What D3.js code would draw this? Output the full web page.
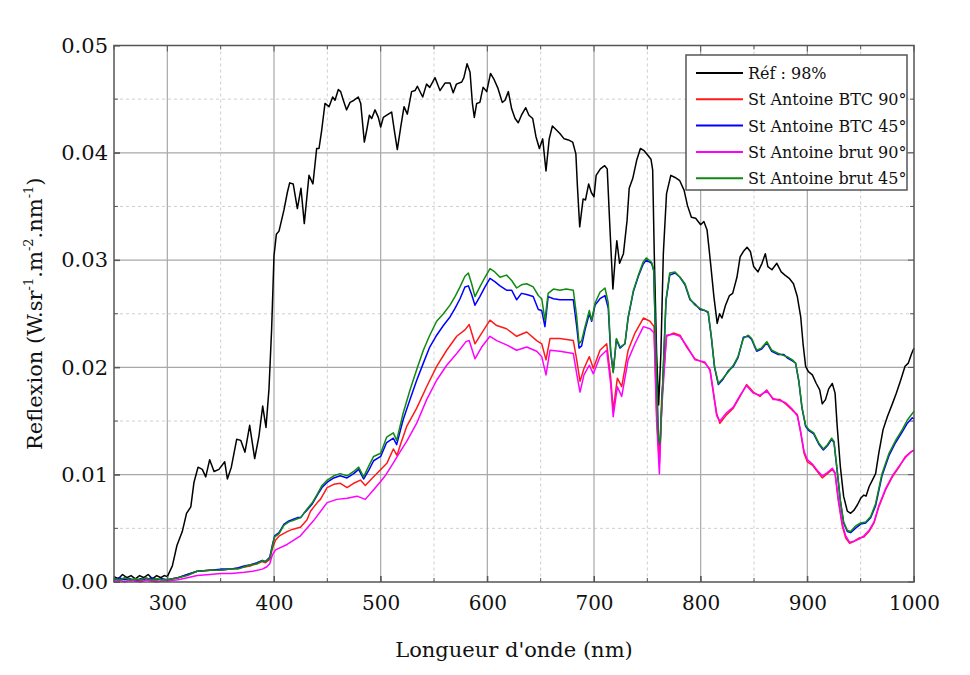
<!DOCTYPE html>
<html>
<head>
<meta charset="utf-8">
<script src="https://cdn.jsdelivr.net/npm/d3@7"></script>
<style>
  html, body { margin: 0; padding: 0; background: #ffffff; }
  svg { display: block; }
</style>
</head>
<body>
<svg id="chart" width="970" height="675"></svg>
<script>
// ---------------- DATA ----------------
const seriesNames = ["Réf : 98%", "St Antoine BTC 90°", "St Antoine BTC 45°", "St Antoine brut 90°", "St Antoine brut 45°"];
const seriesColors = ["#000000", "#ff1a1a", "#0000ff", "#ff00ff", "#108a10"];

const xTicks = [300, 400, 500, 600, 700, 800, 900, 1000];
const yTicks = [0.00, 0.01, 0.02, 0.03, 0.04, 0.05];

// Réf : 98%
const refNm = [250,254,258,262,266,270,274,278,282,286,290,294,297,300,304.7,309,314,318,322,325,328.8,332.8,336,339.7,343.8,348.4,353.8,356.3,360,365,368.8,372.8,377.2,381.9,385.9,389.4,392.5,395.3,397.8,400,402.2,404.7,409.4,412.5,414.7,418,421.9,425.3,428.4,432.8,436.5,440,442.2,444.7,447.8,451.6,455,457.2,460.3,462.5,465,468,471.3,475,479,481.3,484.7,486.9,489.4,491.6,494.7,497.8,500,502.5,507.2,510.3,512.8,515.6,518.8,521.9,525,529,532.2,534.4,539.4,543,546,551,555.6,560.3,565,568,571,576,578,581,583.8,586,587.8,590,593,596,599.4,603,606,610,614,616.6,619.7,622.8,626,629,632,636,639,642.5,645.6,648.8,651.9,655,658,661,665,668,672,676,680,683,684.5,686.6,689.8,692,695,697.5,700,702,706,710,712.4,714.6,717.7,720,721.4,724,727.6,731,733,736.3,740,743.5,747,750.3,753.4,755,756.5,758.7,760.6,762.7,765,768,772,776,780.4,784.5,787.6,791.3,795.3,800,803,806,809.3,812.4,815.5,817.7,820,823.3,827,830,834,837,840,843.5,846.6,849.7,853.7,857.5,860.6,863,866.8,871.4,875.5,879,883,887,890.6,893.8,896,898.4,901,904.7,908.4,911.6,914,917,920,923.4,926,928,931,934,937.5,940.6,943.8,947,950,953,955,958,961,964,967,971,975,979.7,983.4,987.5,991.6,994.7,997.8,1000];
const refVal = [.0005,.0003,.0007,.0004,.0006,.0003,.0006,.0004,.0007,.0003,.0006,.0004,.0006,.0005,.0015,.0034,.0047,.0064,.0070,.0093,.0107,.0105,.0098,.0114,.0103,.0105,.0112,.0096,.0107,.0133,.0132,.0121,.0146,.0115,.0136,.0164,.0144,.0180,.0236,.0304,.0324,.0327,.0347,.0363,.0372,.0371,.0348,.0367,.0334,.0379,.0371,.0404,.0404,.0421,.0446,.0443,.0452,.0449,.0459,.0457,.0449,.0440,.0447,.0449,.0452,.0446,.0410,.0421,.0435,.0432,.0440,.0433,.0424,.0433,.0436,.0438,.0421,.0403,.0424,.0443,.0436,.0457,.0458,.0462,.0452,.0464,.0461,.0470,.0458,.0465,.0465,.0456,.0464,.0466,.0470,.0483,.0475,.0446,.0433,.0446,.0447,.0461,.0457,.0474,.0469,.0460,.0447,.0449,.0457,.0441,.0432,.0428,.0435,.0442,.0435,.0432,.0415,.0404,.0413,.0383,.0413,.0425,.0421,.0418,.0413,.0412,.0410,.0399,.0368,.0331,.0357,.0356,.0371,.0363,.0359,.0379,.0385,.0388,.0385,.0337,.0273,.0303,.0318,.0297,.0306,.0337,.0367,.0376,.0393,.0404,.0402,.0398,.0394,.0384,.0306,.0213,.0165,.0213,.0306,.0362,.0379,.0377,.0374,.0365,.0351,.0340,.0339,.0333,.0336,.0328,.0297,.0266,.0241,.0250,.0246,.0258,.0267,.0269,.0284,.0303,.0308,.0312,.0308,.0294,.0289,.0297,.0306,.0294,.0291,.0297,.0289,.0286,.0283,.0278,.0266,.0247,.0222,.0201,.0196,.0193,.0185,.0179,.0166,.0170,.0180,.0185,.0176,.0145,.0107,.0080,.0066,.0064,.0067,.0072,.0078,.0081,.0080,.0089,.0095,.0101,.0120,.0142,.0154,.0166,.0176,.0188,.0201,.0204,.0213,.0218];

// St Antoine BTC 90°
const btc90Nm = [250,255,260,265,270,275,280,285,290,295,300,310,318.8,328,340,350,359,366,372,378,384,389,392,396,398.4,401.4,405,412.3,417,424.8,431,434.2,440.6,443.5,449.8,456,462.2,468.5,474.7,481,485.6,493.4,500.3,506,511.9,515.3,518.5,524.4,533.8,543.1,552.5,561.9,571.3,579,583,588.4,594.7,602.5,608.8,618,627.5,636.9,646.3,651,655,658.8,668,680.6,683.8,686.9,690.6,695.6,699.4,705.6,711.9,715.6,718,721.9,726,732,738.4,746.3,752.5,756.3,758.8,761.3,763.4,768,774.4,780.6,786.9,794.7,804,808.8,815,818,824.4,830.6,836.9,843,849.4,855.6,861.9,868,874.4,879.7,886,890.6,893.8,896.9,900,904.7,909.4,914,918.8,923.4,926,929,932.8,936,939.7,943.8,948.4,953,957.8,962.5,967,973.4,979.7,986,992,996.9,1000];
const btc90Val = [.0002,.0001,.0003,.0001,.0002,.0001,.0003,.0001,.0002,.0002,.0002,.0004,.0007,.0010,.0011,.0011,.0012,.0013,.0014,.0015,.0017,.0019,.0018,.0021,.0031,.0039,.0043,.0047,.0049,.0051,.0058,.0066,.0074,.0077,.0088,.0091,.0092,.0088,.0092,.0095,.0090,.0098,.0105,.0111,.0124,.0118,.0128,.0145,.0162,.0182,.0201,.0216,.0229,.0235,.0240,.0222,.0232,.0244,.0239,.0236,.0229,.0233,.0225,.0222,.0207,.0227,.0227,.0225,.0207,.0187,.0199,.0210,.0199,.0216,.0222,.0191,.0160,.0190,.0182,.0216,.0232,.0246,.0243,.0238,.0154,.0111,.0170,.0229,.0232,.0230,.0219,.0208,.0204,.0198,.0157,.0148,.0156,.0162,.0173,.0184,.0177,.0173,.0179,.0170,.0170,.0166,.0160,.0156,.0139,.0120,.0112,.0109,.0103,.0097,.0101,.0105,.0101,.0076,.0052,.0041,.0036,.0038,.0041,.0042,.0047,.0055,.0070,.0086,.0098,.0107,.0117,.0121,.0123];

// St Antoine BTC 45°
const btc45Nm = [250,255,260,265,270,275,280,285,290,295,300,310,318.8,328,340,350,359,366,372,378,384,389,392,396,398.4,400.6,404.7,409.4,414,417,422,425,428,431,436,440.6,445,450,456,462,468.5,474.7,479.4,484,488.8,493.4,500,505.6,511.9,515,521,527.5,533.8,540,546,552.5,558.8,565,569.7,574.4,579,582.2,585.3,588.4,593,597.8,602.5,607,611.9,618,622.8,627.5,632,636.9,643,647.8,651,654,657,662,668,674,680.6,683.8,686,688.4,691.6,695.6,697.8,701,705.6,710.3,713.4,715.6,718,721,724.4,729,732,737,741.6,746,749,754,756,758,760.3,762,764.4,767.5,771,776,780.6,785.3,790,794.7,799.4,804,807,810,813,816.6,821,826,830.6,835,840,844.7,847.8,852.5,857,862,866.6,872.8,878,881,886,889,892,895,898.4,901.5,906,911,915,918.8,922.8,925,928,931,934,937.5,940.6,945,950,954.7,959.4,964,970,976.6,982.8,989,993.8,998.4,1000];
const btc45Val = [.0002,.0004,.0002,.0003,.0001,.0003,.0002,.0004,.0002,.0003,.0002,.0004,.0007,.0010,.0011,.0012,.0012,.0013,.0015,.0016,.0018,.0020,.0019,.0023,.0034,.0043,.0046,.0054,.0057,.0058,.0060,.0060,.0064,.0067,.0073,.0081,.0088,.0093,.0097,.0099,.0097,.0101,.0105,.0096,.0104,.0113,.0117,.0130,.0134,.0128,.0151,.0170,.0188,.0204,.0219,.0230,.0239,.0247,.0255,.0264,.0275,.0276,.0268,.0258,.0266,.0275,.0283,.0280,.0276,.0272,.0272,.0263,.0269,.0268,.0266,.0254,.0253,.0238,.0266,.0264,.0263,.0263,.0263,.0238,.0218,.0220,.0235,.0250,.0243,.0258,.0264,.0267,.0255,.0214,.0196,.0226,.0218,.0222,.0246,.0271,.0285,.0296,.0300,.0297,.0290,.0215,.0134,.0128,.0184,.0262,.0286,.0288,.0284,.0277,.0263,.0259,.0254,.0253,.0251,.0228,.0200,.0184,.0189,.0197,.0201,.0209,.0228,.0229,.0226,.0215,.0217,.0223,.0215,.0212,.0212,.0209,.0206,.0204,.0187,.0162,.0145,.0141,.0138,.0128,.0123,.0127,.0133,.0130,.0103,.0075,.0055,.0047,.0046,.0050,.0054,.0055,.0060,.0071,.0099,.0118,.0130,.0140,.0148,.0153,.0152];

// St Antoine brut 90°
const brut90Nm = [250,255,260,265,270,275,280,285,290,295,300,310,318.8,328,340,350,360,372,380,389,393,396,398.4,401.4,412.3,424.8,437,449.8,459,468.5,477.8,485.6,493.4,499.4,505,511.9,518,524.4,533.8,543.1,552.5,561.9,571.3,580,583,588.4,594.7,602.5,608.8,618,627.5,636.9,646.3,651,655,658.8,668,680.6,683.8,686.9,690.6,695.6,699.4,705.6,711.9,715.6,718,721.9,726,732,738.4,746.3,752.5,756.3,758.8,761.3,763.4,768,774.4,780.6,786.9,794.7,804,808.8,815,818,824.4,830.6,836.9,843,849.4,855.6,861.9,868,874.4,879.7,886,890.6,893.8,896.9,900,904.7,909.4,914,918.8,923.4,926,929,932.8,936,939.7,943.8,948.4,953,957.8,962.5,967,973.4,979.7,986,992,996.9,1000];
const brut90Val = [.0001,.0002,.0000,.0002,.0001,.0000,.0002,.0001,.0000,.0001,.0001,.0002,.0004,.0006,.0007,.0008,.0008,.0009,.0010,.0012,.0014,.0017,.0025,.0030,.0035,.0043,.0057,.0074,.0077,.0078,.0080,.0077,.0086,.0093,.0100,.0111,.0121,.0131,.0148,.0170,.0188,.0202,.0213,.0224,.0225,.0208,.0219,.0229,.0225,.0221,.0216,.0219,.0215,.0210,.0193,.0216,.0215,.0213,.0194,.0177,.0193,.0202,.0194,.0210,.0216,.0185,.0154,.0182,.0173,.0207,.0222,.0238,.0236,.0232,.0148,.0101,.0160,.0230,.0231,.0229,.0220,.0207,.0205,.0197,.0155,.0150,.0158,.0163,.0174,.0183,.0176,.0174,.0178,.0171,.0169,.0167,.0161,.0155,.0140,.0122,.0114,.0110,.0104,.0099,.0102,.0106,.0102,.0078,.0054,.0043,.0037,.0038,.0040,.0043,.0048,.0056,.0071,.0087,.0099,.0108,.0116,.0121,.0123];

// St Antoine brut 45°
const brut45Nm = [250,255,260,265,270,275,280,285,290,295,300,310,318.8,328,340,350,359,366,372,378,384,389,392,396,398.4,400.6,404.7,409.4,414,417,422,425,428,431,436,440.6,445,450,456,462,468.5,474.7,479.4,484,488.8,493.4,500,505.6,511.9,515,521,527.5,533.8,540,546,552.5,558.8,565,569.7,574.4,579,582.2,585.3,588.4,593,597.8,602.5,607,611.9,618,622.8,627.5,632,636.9,643,647.8,651,654,657,662,668,674,680.6,683.8,686,688.4,691.6,695.6,697.8,701,705.6,710.3,713.4,715.6,718,721,724.4,729,732,737,741.6,746,749,754,756,758,760.3,762,764.4,767.5,771,776,780.6,785.3,790,794.7,799.4,804,807,810,813,816.6,821,826,830.6,835,840,844.7,847.8,852.5,857,862,866.6,872.8,878,881,886,889,892,895,898.4,901.5,906,911,915,918.8,922.8,925,928,931,934,937.5,940.6,945,950,954.7,959.4,964,970,976.6,982.8,989,993.8,998.4,1000];
const brut45Val = [.0003,.0002,.0004,.0002,.0003,.0002,.0004,.0002,.0003,.0002,.0002,.0004,.0006,.0010,.0011,.0011,.0012,.0012,.0014,.0016,.0017,.0020,.0019,.0022,.0033,.0042,.0045,.0053,.0056,.0057,.0059,.0060,.0064,.0068,.0074,.0082,.0090,.0095,.0099,.0101,.0099,.0103,.0107,.0098,.0108,.0117,.0120,.0135,.0139,.0132,.0157,.0179,.0198,.0216,.0230,.0243,.0250,.0258,.0266,.0275,.0285,.0288,.0278,.0266,.0275,.0284,.0292,.0289,.0284,.0286,.0281,.0274,.0277,.0278,.0275,.0267,.0264,.0244,.0269,.0273,.0272,.0273,.0272,.0247,.0222,.0225,.0238,.0253,.0244,.0260,.0270,.0274,.0260,.0216,.0195,.0227,.0219,.0222,.0247,.0272,.0286,.0298,.0302,.0298,.0291,.0216,.0135,.0129,.0185,.0263,.0288,.0289,.0284,.0278,.0264,.0258,.0255,.0253,.0252,.0229,.0201,.0185,.0190,.0196,.0202,.0210,.0227,.0230,.0227,.0216,.0218,.0224,.0216,.0213,.0211,.0210,.0207,.0204,.0188,.0163,.0146,.0142,.0139,.0129,.0124,.0128,.0134,.0131,.0104,.0076,.0056,.0048,.0047,.0052,.0055,.0056,.0061,.0073,.0101,.0120,.0132,.0142,.0151,.0157,.0159];

const seriesNm = [refNm, btc90Nm, btc45Nm, brut90Nm, brut45Nm];
const seriesVal = [refVal, btc90Val, btc45Val, brut90Val, brut45Val];

// ---------------- CHART ----------------
const svg = d3.select("#chart");
const FONT = "'DejaVu Serif', 'Liberation Serif', serif";
const L = 114, R = 914, T = 45.5, B = 582;

const x = d3.scaleLinear().domain([250, 1000]).range([L, R]);
const y = d3.scaleLinear().domain([0, 0.05]).range([B, T]);

const minorX = d3.range(350, 1000, 100);
const majorXGrid = [300, 400, 500, 600, 700, 800, 900];
const minorY = [0.005, 0.015, 0.025, 0.035, 0.045];
const majorYGrid = [0.01, 0.02, 0.03, 0.04];

const grid = svg.append("g");
grid.selectAll(".mnx").data(minorX).join("line")
  .attr("x1", d => x(d)).attr("x2", d => x(d)).attr("y1", T).attr("y2", B)
  .attr("stroke", "#cfcfcf").attr("stroke-width", 1).attr("stroke-dasharray", "3,3");
grid.selectAll(".mny").data(minorY).join("line")
  .attr("x1", L).attr("x2", R).attr("y1", d => y(d)).attr("y2", d => y(d))
  .attr("stroke", "#cfcfcf").attr("stroke-width", 1).attr("stroke-dasharray", "3,3");
grid.selectAll(".mjx").data(majorXGrid).join("line")
  .attr("x1", d => x(d)).attr("x2", d => x(d)).attr("y1", T).attr("y2", B)
  .attr("stroke", "#a8a8a8").attr("stroke-width", 1.2);
grid.selectAll(".mjy").data(majorYGrid).join("line")
  .attr("x1", L).attr("x2", R).attr("y1", d => y(d)).attr("y2", d => y(d))
  .attr("stroke", "#a8a8a8").attr("stroke-width", 1.2);

// series lines
const line = d3.line().x(d => x(d[0])).y(d => y(d[1]));
const lines = svg.append("g");
seriesNm.forEach((nms, i) => {
  const pts = nms.map((n, j) => [n, seriesVal[i][j]]);
  lines.append("path").datum(pts)
    .attr("d", line)
    .attr("fill", "none")
    .attr("stroke", seriesColors[i])
    .attr("stroke-width", 1.5)
    .attr("stroke-linejoin", "round");
});

// axes with inner ticks
const allX = d3.range(250, 1001, 50);
const allY = d3.range(0, 0.0501, 0.005);
const xb = d3.axisBottom(x).tickValues(xTicks).tickSizeInner(-6).tickSizeOuter(0).tickPadding(14).tickFormat(d3.format("d"));
const gx = svg.append("g").attr("transform", `translate(0,${B})`).call(xb);
gx.select(".domain").remove();
gx.selectAll("line").attr("stroke", "#555");
gx.selectAll("text").attr("font-family", FONT).attr("font-size", 20).attr("fill", "#111");

const yl = d3.axisLeft(y).tickValues(yTicks).tickSizeInner(-6).tickSizeOuter(0).tickPadding(6).tickFormat(d3.format(".2f"));
const gy = svg.append("g").attr("transform", `translate(${L},0)`).call(yl);
gy.select(".domain").remove();
gy.selectAll("line").attr("stroke", "#555");
gy.selectAll("text").attr("font-family", FONT).attr("font-size", 21).attr("fill", "#111");

// minor ticks on all sides
const tk = svg.append("g").attr("stroke", "#555").attr("stroke-width", 1);
allX.forEach(v => {
  const len = (v % 100 === 0) ? 6 : 4;
  tk.append("line").attr("x1", x(v)).attr("x2", x(v)).attr("y1", B).attr("y2", B - len);
  tk.append("line").attr("x1", x(v)).attr("x2", x(v)).attr("y1", T).attr("y2", T + len);
});
allY.forEach((v, k) => {
  const len = (k % 2 === 0) ? 6 : 4;
  tk.append("line").attr("x1", L).attr("x2", L + len).attr("y1", y(v)).attr("y2", y(v));
  tk.append("line").attr("x1", R).attr("x2", R - len).attr("y1", y(v)).attr("y2", y(v));
});

// frame
svg.append("rect").attr("x", L).attr("y", T).attr("width", R - L).attr("height", B - T)
  .attr("fill", "none").attr("stroke", "#555").attr("stroke-width", 1.5);

// axis titles
svg.append("text").attr("x", (L + R) / 2).attr("y", 657)
  .attr("text-anchor", "middle").attr("font-family", FONT).attr("font-size", 21).attr("fill", "#111")
  .text("Longueur d'onde (nm)");

const yt = svg.append("text").attr("transform", `translate(42,${(T + B) / 2}) rotate(-90)`)
  .attr("text-anchor", "middle").attr("font-family", FONT).attr("font-size", 21).attr("fill", "#111");
yt.append("tspan").text("Reflexion (W.sr");
yt.append("tspan").attr("font-size", 13).attr("dy", -9).text("-1");
yt.append("tspan").attr("dy", 9).text(".m");
yt.append("tspan").attr("font-size", 13).attr("dy", -9).text("-2");
yt.append("tspan").attr("dy", 9).text(".nm");
yt.append("tspan").attr("font-size", 13).attr("dy", -9).text("-1");
yt.append("tspan").attr("dy", 9).text(")");

// legend
const lg = svg.append("g");
lg.append("rect").attr("x", 686).attr("y", 55).attr("width", 221).attr("height", 135)
  .attr("fill", "#ffffff").attr("stroke", "#555").attr("stroke-width", 1.5);
seriesNames.forEach((name, i) => {
  const cy = 73 + i * 26.3;
  lg.append("line").attr("x1", 696).attr("x2", 743).attr("y1", cy).attr("y2", cy)
    .attr("stroke", seriesColors[i]).attr("stroke-width", 2);
  lg.append("text").attr("x", 748).attr("y", cy + 6)
    .attr("font-family", FONT).attr("font-size", 16).attr("fill", "#111").text(name);
});
</script>
</body>
</html>
